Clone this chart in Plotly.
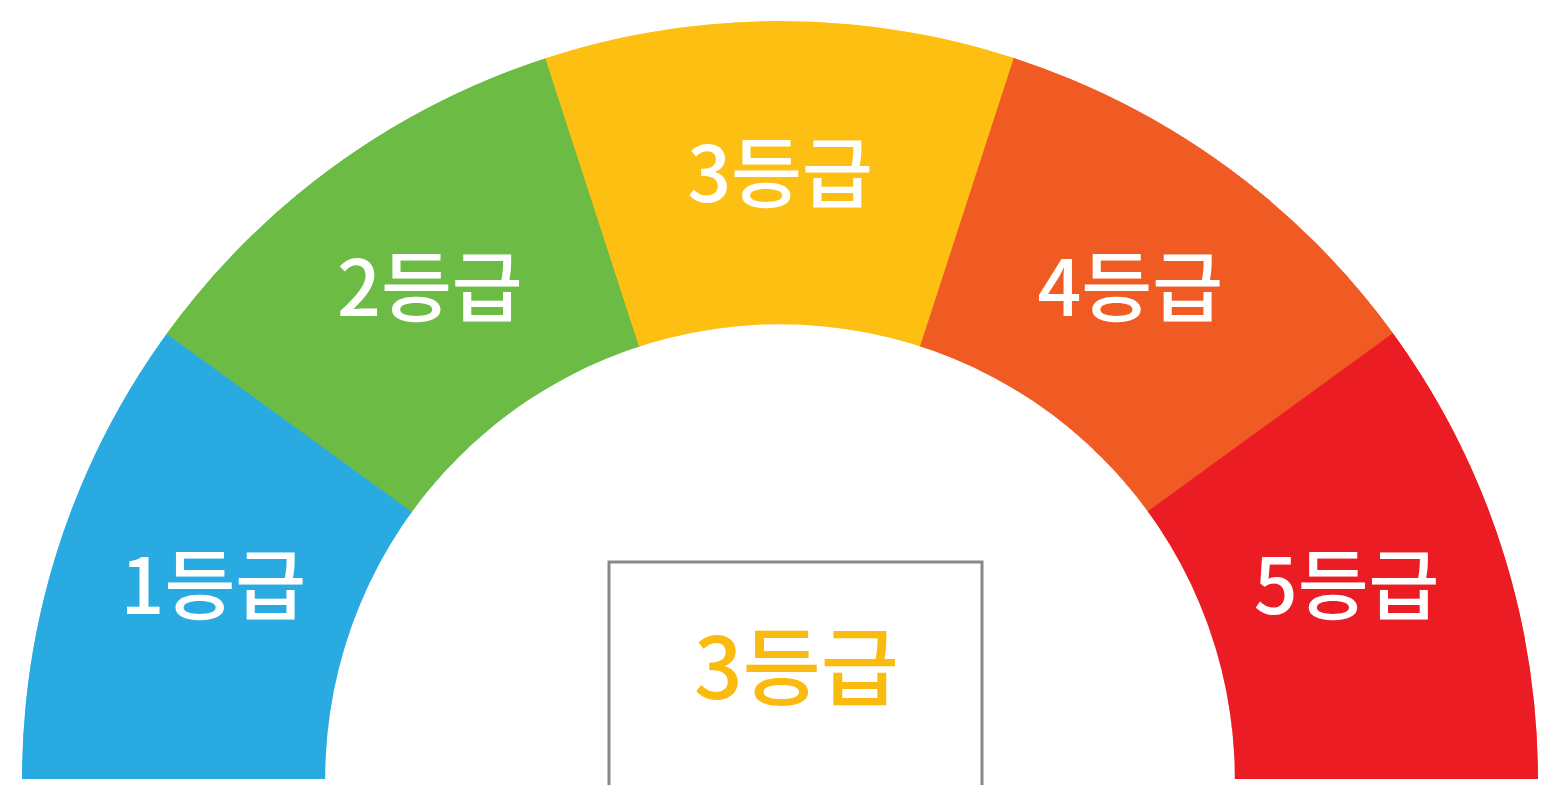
import plotly.graph_objects as go
import numpy as np

# ---- data ----
grades = ["1등급", "2등급", "3등급", "4등급", "5등급"]
shares = [1, 1, 1, 1, 1]          # equal parts of the half-circle
colors = ["#29ABE2", "#6CBB44", "#FDBF12", "#F05A23", "#EC1C24"]
current_grade = "3등급"
current_color = "#FBBA0E"

# ---- layout geometry (pixels; page body has an 8px margin) ----
OFF = 8
W, H = 1538, 777
ML, MR, MT, MB = 14, 8, 13, 6

shares_arr = np.array(shares, dtype=float)
widths = shares_arr / shares_arr.sum() * 180.0
starts = np.concatenate([[0.0], np.cumsum(widths)[:-1]])
centers = starts + widths / 2

fig = go.Figure()
fig.add_trace(go.Barpolar(
    r=[1] * len(grades),
    theta=centers,
    width=widths,
    marker=dict(color=colors, line=dict(color=colors, width=1)),
    hoverinfo="skip",
    showlegend=False,
))
fig.add_trace(go.Scatterpolar(
    r=[0.465] * len(grades),
    theta=centers,
    mode="text",
    text=grades,
    textposition="middle center",
    textfont=dict(family="Noto Sans CJK KR", size=77, color="white", weight=500),
    hoverinfo="skip",
    showlegend=False,
))

def px_x(x):
    return (x - OFF - ML) / (W - ML - MR)

def px_y(y):
    return (H - MB - (y - OFF)) / (H - MT - MB)

fig.add_shape(type="rect", xref="paper", yref="paper",
              x0=px_x(609), x1=px_x(982), y0=px_y(790), y1=px_y(562),
              line=dict(color="#888888", width=3), fillcolor="white", layer="above")
fig.add_annotation(xref="paper", yref="paper", x=px_x(796), y=px_y(661),
                   text=current_grade, showarrow=False,
                   font=dict(family="Noto Sans CJK KR", size=85, color=current_color, weight=500),
                   xanchor="center", yanchor="middle")

fig.update_layout(
    width=W, height=H,
    margin=dict(l=ML, r=MR, t=MT, b=MB, pad=0),
    paper_bgcolor="white",
    plot_bgcolor="white",
    polar=dict(
        sector=[0, 180],
        hole=0.6,
        bgcolor="white",
        domain=dict(x=[0, 1], y=[0, 1]),
        radialaxis=dict(range=[0, 1], visible=False, showgrid=False),
        angularaxis=dict(rotation=180, direction="clockwise", thetaunit="degrees",
                         visible=False, showgrid=False, showline=False,
                         showticklabels=False, ticks=""),
        bargap=0,
    ),
)

fig.write_html("out.html")
